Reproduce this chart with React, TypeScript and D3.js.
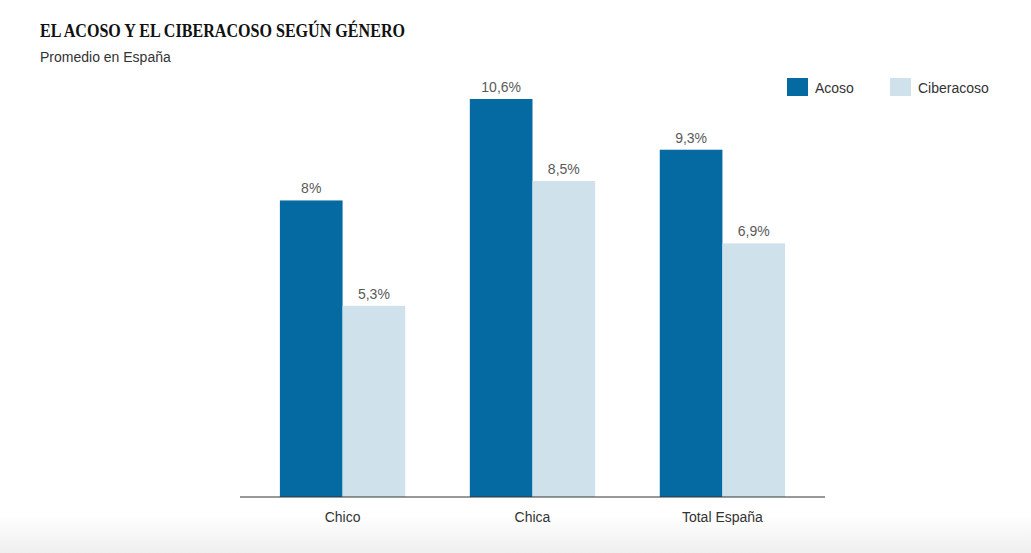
import React from "react";
import * as d3 from "d3";

const categories = ["Chico", "Chica", "Total España"];
const seriesNames = ["Acoso", "Ciberacoso"];
const acoso = [8, 10.6, 9.3];
const ciberacoso = [5.3, 8.5, 6.9];
const valueLabels = [["8%", "5,3%"], ["10,6%", "8,5%"], ["9,3%", "6,9%"]];

const W = 1031;
const H = 553;
const colors = ["#056aa1", "#cfe2ec"];

export default function App() {
  const x0 = d3.scaleBand<string>().domain(categories).range([240, 825]).paddingInner(0.34).paddingOuter(0.21);
  const x1 = d3.scaleBand<string>().domain(seriesNames).range([0, x0.bandwidth()]);
  const y = d3.scaleLinear().domain([0.4, 10.6]).range([497, 99]);
  const values = [acoso, ciberacoso];
  const font = "'Liberation Sans', Arial, sans-serif";

  return (
    <svg width={W} height={H} style={{ position: "absolute", left: 0, top: 0, background: "#fff" }}>
      <defs>
        <linearGradient id="bg" x1="0" y1="0" x2="0" y2="1">
          <stop offset="0" stopColor="#ffffff" />
          <stop offset="1" stopColor="#efefef" />
        </linearGradient>
      </defs>
      <rect x={0} y={515} width={W} height={H - 515} fill="url(#bg)" />
      <text
        x={40}
        y={37}
        fontFamily="'Liberation Serif', 'Times New Roman', serif"
        fontWeight="bold"
        fontSize={18}
        fill="#111"
        textLength={365}
        lengthAdjust="spacingAndGlyphs"
      >
        EL ACOSO Y EL CIBERACOSO SEGÚN GÉNERO
      </text>
      <text x={40} y={62} fontFamily={font} fontSize={14} fill="#333">
        Promedio en España
      </text>
      {seriesNames.map((s, i) => {
        const lx = [787, 890][i];
        return (
          <g key={s}>
            <rect x={lx} y={78} width={21} height={18} fill={colors[i]} />
            <text x={lx + 28} y={93} fontFamily={font} fontSize={14} fill="#333">
              {s}
            </text>
          </g>
        );
      })}
      {categories.map((c, ci) => (
        <g key={c} transform={`translate(${x0(c)},0)`}>
          {seriesNames.map((s, si) => {
            const v = values[si][ci];
            const bx = x1(s)!;
            return (
              <g key={s}>
                <rect x={bx} y={y(v)} width={x1.bandwidth()} height={497 - y(v)} fill={colors[si]} />
                <text
                  x={bx + x1.bandwidth() / 2}
                  y={y(v) - 7}
                  textAnchor="middle"
                  fontFamily={font}
                  fontSize={14}
                  fill="#5a5a5a"
                >
                  {valueLabels[ci][si]}
                </text>
              </g>
            );
          })}
          <text x={x0.bandwidth() / 2} y={522} textAnchor="middle" fontFamily={font} fontSize={14} fill="#333">
            {c}
          </text>
        </g>
      ))}
      <line x1={240} x2={825} y1={497} y2={497} stroke="#333" strokeWidth={1} />
    </svg>
  );
}
